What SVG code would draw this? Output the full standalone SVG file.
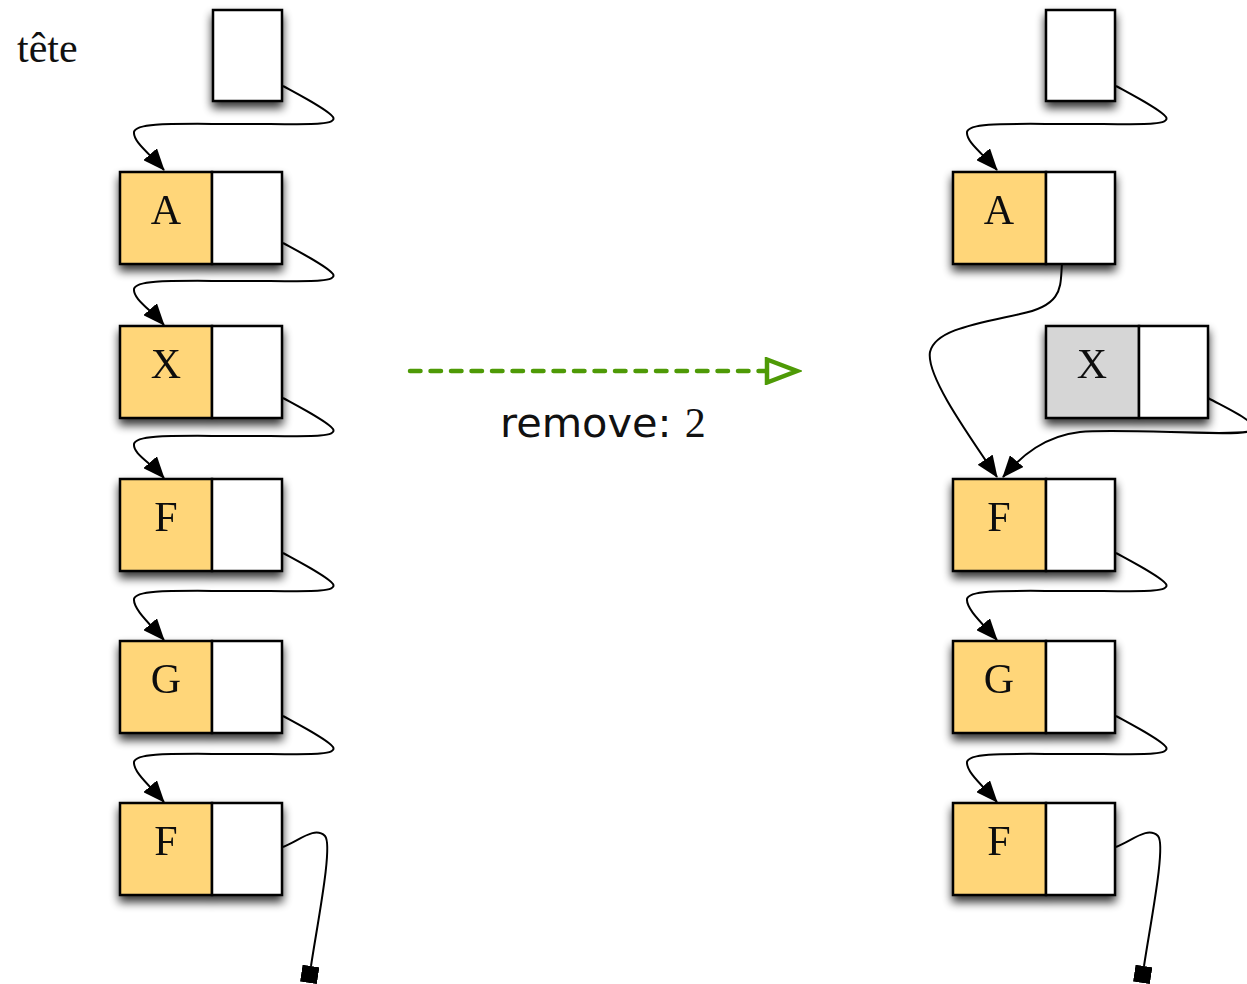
<svg xmlns="http://www.w3.org/2000/svg" width="1247" height="984" viewBox="0 0 1247 984">
<style>
.cell{stroke:#000;stroke-width:2.5}
.val{fill:#FFD679}
.ptr{fill:#fff}
.gray{fill:#D6D6D6}
.lbl{font-family:"Liberation Serif","Times New Roman",serif;font-size:42px;fill:#111;text-anchor:middle}
.lnk{fill:none;stroke:#000;stroke-width:2;marker-end:url(#arr)}
.nil{fill:none;stroke:#000;stroke-width:2;marker-end:url(#sq)}
</style>
<defs>
<filter id="sh" x="-30%" y="-30%" width="160%" height="175%">
<feGaussianBlur in="SourceAlpha" stdDeviation="5"/>
<feOffset dy="6" result="b"/>
<feComponentTransfer><feFuncA type="linear" slope="0.8"/></feComponentTransfer>
<feMerge><feMergeNode/><feMergeNode in="SourceGraphic"/></feMerge>
</filter>
<marker id="arr" markerUnits="userSpaceOnUse" viewBox="0 0 22 18" markerWidth="22" markerHeight="18" refX="21" refY="9" orient="auto">
<path d="M0,0 L22,9 L0,18 z" fill="#000"/>
</marker>
<marker id="sq" markerUnits="userSpaceOnUse" viewBox="0 0 17 17" markerWidth="17" markerHeight="17" refX="0" refY="8.5" orient="auto">
<rect x="0" y="0" width="17" height="17" fill="#000"/>
</marker>
<marker id="open" markerUnits="userSpaceOnUse" viewBox="0 0 38 28" markerWidth="38" markerHeight="28" refX="3" refY="14" orient="auto">
<path d="M3,2.5 L33,14 L3,25.5 z" fill="#fff" stroke="#4E9A06" stroke-width="4.5" stroke-linejoin="miter"/>
</marker>
</defs>

<text x="17" y="62" font-family="Liberation Serif, Times New Roman, serif" font-size="42" fill="#111">tête</text>

<!-- left list -->
<g id="L-head" filter="url(#sh)"><rect class="cell ptr" x="213" y="10" width="69" height="91"/></g>
<g id="L-A" filter="url(#sh)"><rect class="cell val" x="120" y="172" width="92" height="92"/><rect class="cell ptr" x="212" y="172" width="70" height="92"/><text class="lbl" x="166" y="224">A</text></g>
<g id="L-X" filter="url(#sh)"><rect class="cell val" x="120" y="326" width="92" height="92"/><rect class="cell ptr" x="212" y="326" width="70" height="92"/><text class="lbl" x="166" y="378">X</text></g>
<g id="L-F1" filter="url(#sh)"><rect class="cell val" x="120" y="479" width="92" height="92"/><rect class="cell ptr" x="212" y="479" width="70" height="92"/><text class="lbl" x="166" y="531">F</text></g>
<g id="L-G" filter="url(#sh)"><rect class="cell val" x="120" y="641" width="92" height="92"/><rect class="cell ptr" x="212" y="641" width="70" height="92"/><text class="lbl" x="166" y="693">G</text></g>
<g id="L-F2" filter="url(#sh)"><rect class="cell val" x="120" y="803" width="92" height="92"/><rect class="cell ptr" x="212" y="803" width="70" height="92"/><text class="lbl" x="166" y="855">F</text></g>

<!-- right list -->
<g id="R-head" filter="url(#sh)"><rect class="cell ptr" x="1046" y="10" width="69" height="91"/></g>
<g id="R-A" filter="url(#sh)"><rect class="cell val" x="953" y="172" width="93" height="92"/><rect class="cell ptr" x="1046" y="172" width="69" height="92"/><text class="lbl" x="999" y="224">A</text></g>
<g id="R-X" filter="url(#sh)"><rect class="cell gray" x="1046" y="326" width="93" height="92"/><rect class="cell ptr" x="1139" y="326" width="69" height="92"/><text class="lbl" x="1092" y="378">X</text></g>
<g id="R-F1" filter="url(#sh)"><rect class="cell val" x="953" y="479" width="93" height="92"/><rect class="cell ptr" x="1046" y="479" width="69" height="92"/><text class="lbl" x="999" y="531">F</text></g>
<g id="R-G" filter="url(#sh)"><rect class="cell val" x="953" y="641" width="93" height="92"/><rect class="cell ptr" x="1046" y="641" width="69" height="92"/><text class="lbl" x="999" y="693">G</text></g>
<g id="R-F2" filter="url(#sh)"><rect class="cell val" x="953" y="803" width="93" height="92"/><rect class="cell ptr" x="1046" y="803" width="69" height="92"/><text class="lbl" x="999" y="855">F</text></g>

<g id="connectors">
<!-- left -->
<path class="lnk" d="M283,86 C305,98 328,110 333,117 C338,126 305,124 240,124 C175,124 136,122 134,132 C133,142 150,154 164,170"/>
<path class="lnk" d="M283,243 C305,255 328,267 333,274 C338,283 305,281 240,281 C175,281 136,279 134,289 C133,299 150,309 164,325"/>
<path class="lnk" d="M283,398 C305,410 328,422 333,429 C338,438 305,436 240,436 C175,436 136,434 134,444 C133,454 150,462 164,478"/>
<path class="lnk" d="M283,553 C305,565 328,577 333,584 C338,593 305,591 240,591 C175,591 136,589 134,599 C133,609 150,624 164,640"/>
<path class="lnk" d="M283,716 C305,728 328,740 333,747 C338,756 305,754 240,754 C175,754 136,752 134,762 C133,772 150,786 164,802"/>
<path class="nil" d="M283,847 C300,840 315,826 325,836 C333,845 318,920 311,966"/>
<!-- right -->
<path class="lnk" d="M1116,86 C1138,98 1161,110 1166,117 C1171,126 1138,124 1073,124 C1008,124 969,122 967,132 C966,142 983,154 997,170"/>
<path class="lnk" d="M1062,264 C1060,285 1065,305 1020,314 C975,324 935,330 930,352 C926,375 965,430 997,477"/>
<path class="lnk" d="M1208,398 C1230,410 1262,424 1250,431 C1240,437 1120,428 1080,432 C1045,436 1022,455 1003,477"/>
<path class="lnk" d="M1116,553 C1138,565 1161,577 1166,584 C1171,593 1138,591 1073,591 C1008,591 969,589 967,599 C966,609 983,624 997,640"/>
<path class="lnk" d="M1116,716 C1138,728 1161,740 1166,747 C1171,756 1138,754 1073,754 C1008,754 969,752 967,762 C966,772 983,786 997,802"/>
<path class="nil" d="M1116,847 C1133,840 1148,826 1158,836 C1166,845 1151,920 1144,966"/>
<!-- transformation arrow -->
<path d="M410,371 L767,371" fill="none" stroke="#4E9A06" stroke-width="4.5" stroke-linecap="round" stroke-dasharray="10.5 10" marker-end="url(#open)"/>
</g>

<text x="500" y="437" font-family="DejaVu Sans, Verdana, sans-serif" font-size="41.5" fill="#111">remove: <tspan font-family="Liberation Serif, Times New Roman, serif" font-size="42">2</tspan></text>
</svg>
